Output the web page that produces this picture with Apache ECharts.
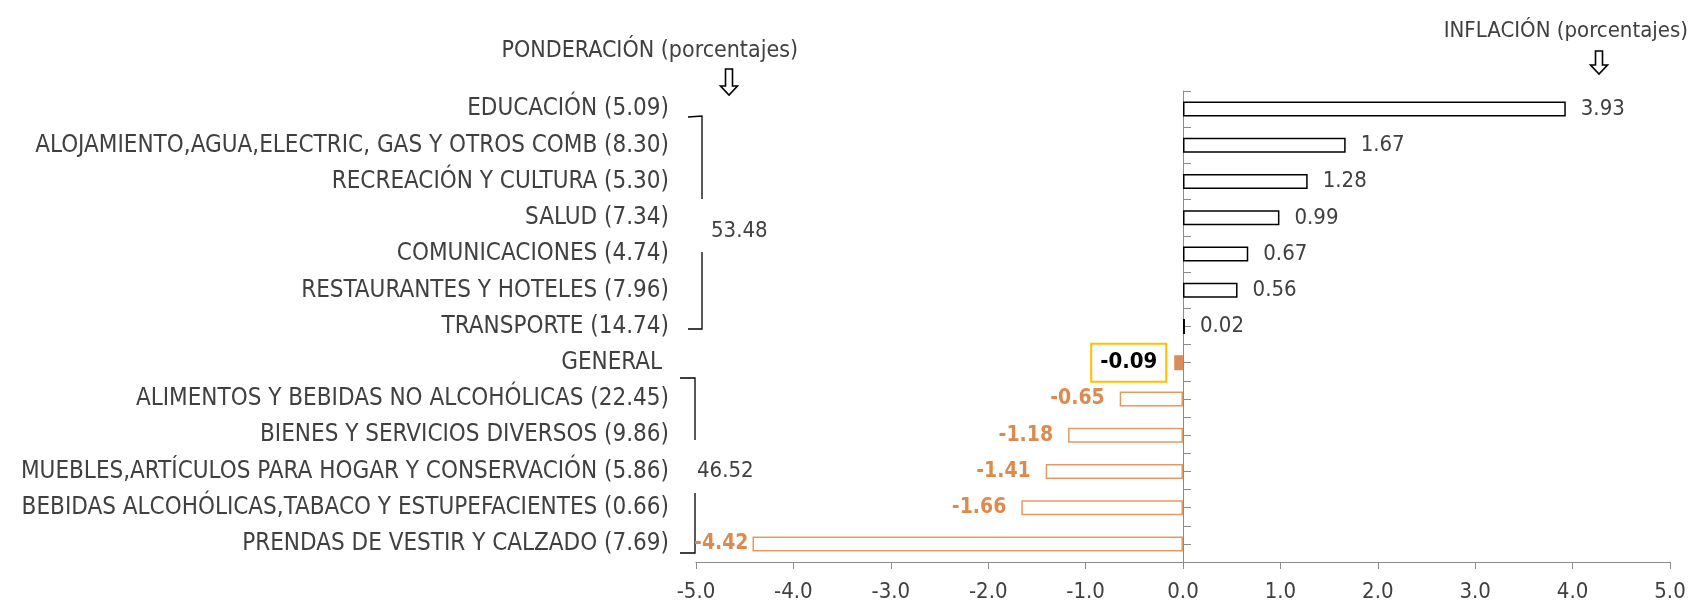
<!DOCTYPE html>
<html>
<head>
<meta charset="utf-8">
<script src="https://cdn.jsdelivr.net/npm/echarts@6/dist/echarts.min.js"></script>
<style>
  html, body { margin: 0; padding: 0; background: #fff; }
  #chart { width: 1689px; height: 606px; }
</style>
</head>
<body>
<div id="chart"></div>
<script>
// datos
const categorias = ['EDUCACIÓN', 'ALOJAMIENTO,AGUA,ELECTRIC, GAS Y OTROS COMB', 'RECREACIÓN Y CULTURA',
  'SALUD', 'COMUNICACIONES', 'RESTAURANTES Y HOTELES', 'TRANSPORTE', 'GENERAL',
  'ALIMENTOS Y BEBIDAS NO ALCOHÓLICAS', 'BIENES Y SERVICIOS DIVERSOS',
  'MUEBLES,ARTÍCULOS PARA HOGAR Y CONSERVACIÓN', 'BEBIDAS ALCOHÓLICAS,TABACO Y ESTUPEFACIENTES',
  'PRENDAS DE VESTIR Y CALZADO'];
const ponderacion = [5.09, 8.30, 5.30, 7.34, 4.74, 7.96, 14.74, null, 22.45, 9.86, 5.86, 0.66, 7.69];
const inflacion = [3.93, 1.67, 1.28, 0.99, 0.67, 0.56, 0.02, -0.09, -0.65, -1.18, -1.41, -1.66, -4.42];
const totalesGrupo = ['53.48', '46.52'];
const ticksX = [-5, -4, -3, -2, -1, 0, 1, 2, 3, 4, 5];

const fuente = "'DejaVu Sans Condensed', 'Liberation Sans Narrow', sans-serif";
const gris = '#404040';
const naranja = '#DD8A4E';

let etiquetas = categorias.map(function (c, i) {
  return ponderacion[i] === null ? c + ' ' : c + ' (' + ponderacion[i].toFixed(2) + ')';
});

let datos = inflacion.map(function (v, i) {
  if (categorias[i] === 'GENERAL') {
    return {
      value: v,
      itemStyle: { color: '#D98C55', borderWidth: 0 },
      label: {
        show: true, position: 'left', distance: 9,
        color: '#000', fontWeight: 'bold', fontSize: 22,
        backgroundColor: '#fff', borderColor: '#FFC000', borderWidth: 2,
        padding: [8, 8, 6, 8]
      }
    };
  }
  if (v < 0) {
    return {
      value: v,
      itemStyle: { color: '#fff', borderColor: '#E39A62', borderWidth: 1.5 },
      // la barra mas larga deja poco sitio antes de la llave
      label: { show: true, position: 'left', distance: v < -4 ? 4 : 15,
        color: naranja, fontWeight: 'bold', fontSize: 21 }
    };
  }
  return {
    value: v,
    itemStyle: { color: '#fff', borderColor: '#000', borderWidth: 1.5 },
    label: { show: true, position: 'right', distance: 15, color: gris, fontSize: 22 }
  };
});

// flecha hueca hacia abajo
function flecha(cx, top, h) {
  let s = 3.5, w = 8.5, hh = 9;
  return {
    type: 'polygon',
    shape: { points: [[cx - s, top], [cx + s, top], [cx + s, top + h - hh], [cx + w, top + h - hh],
      [cx, top + h], [cx - w, top + h - hh], [cx - s, top + h - hh]] },
    style: { fill: '#fff', stroke: '#000', lineWidth: 1.6 }
  };
}

function linea(pts) {
  return { type: 'polyline', shape: { points: pts }, style: { stroke: '#000', lineWidth: 1.3, fill: null } };
}

let myChart = echarts.init(document.getElementById('chart'));
let option = {
  backgroundColor: '#fff',
  animation: false,
  textStyle: { fontFamily: fuente },
  grid: { left: 696, right: 19, top: 91, bottom: 44 },
  xAxis: {
    type: 'value', min: ticksX[0], max: ticksX[ticksX.length - 1], interval: 1,
    splitLine: { show: false },
    axisLine: { show: true, onZero: false, lineStyle: { color: '#8c8c8c' } },
    axisTick: { show: true, length: 7, lineStyle: { color: '#8c8c8c' } },
    axisLabel: { color: gris, fontSize: 22, fontFamily: fuente, margin: 19,
      formatter: function (v) { return v.toFixed(1); } }
  },
  yAxis: [
    {
      type: 'category', data: etiquetas, inverse: true, position: 'left',
      axisLine: { show: false, onZero: false },
      axisTick: { show: false },
      axisLabel: { color: gris, fontSize: 24, fontFamily: fuente, margin: 27 }
    },
    {
      // eje en cero con marcas cada media categoria
      type: 'category', data: etiquetas.concat(etiquetas).map(function () { return ''; }),
      inverse: true, position: 'right',
      axisLine: { show: true, onZero: true, lineStyle: { color: '#8c8c8c' } },
      axisTick: { show: true, length: 8, lineStyle: { color: '#8c8c8c' } },
      axisLabel: { show: false }
    }
  ],
  series: [{
    type: 'bar', yAxisIndex: 0, barWidth: 15,
    data: datos,
    label: { fontFamily: fuente, formatter: function (p) { return p.value.toFixed(2); } }
  }],
  graphic: [
    { type: 'text', right: 1689 - 798, top: 40,
      style: { text: 'PONDERACIÓN (porcentajes)', font: '23px ' + fuente, fill: gris } },
    { type: 'text', right: 1, top: 20,
      style: { text: 'INFLACIÓN (porcentajes)', font: '22px ' + fuente, fill: gris } },
    flecha(729, 69, 26),
    flecha(1599, 51, 23),
    linea([[688, 117], [702, 116], [702, 199]]),
    linea([[702, 252], [702, 329], [688, 329]]),
    linea([[680, 378], [695, 378], [695, 440]]),
    linea([[695, 493], [695, 553], [680, 553]]),
    { type: 'text', x: 711, y: 220, style: { text: totalesGrupo[0], font: '22px ' + fuente, fill: gris } },
    { type: 'text', x: 697, y: 460, style: { text: totalesGrupo[1], font: '22px ' + fuente, fill: gris } }
  ]
};
myChart.setOption(option);
window.addEventListener('resize', function () { myChart.resize(); });
</script>
</body>
</html>
